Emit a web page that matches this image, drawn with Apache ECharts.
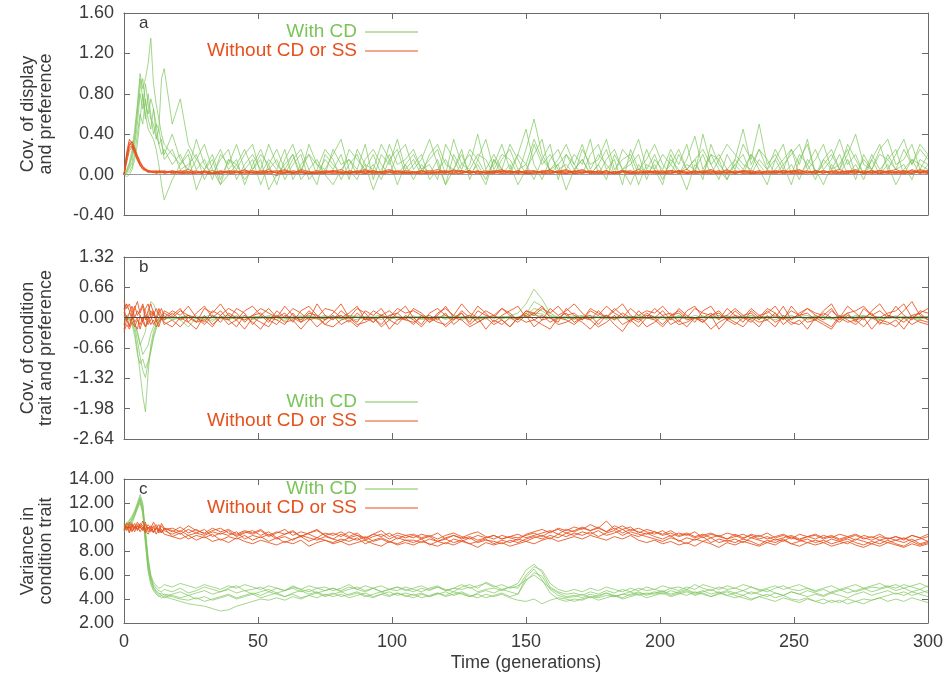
<!DOCTYPE html>
<html><head><meta charset="utf-8">
<script src="https://cdn.jsdelivr.net/npm/echarts@6/dist/echarts.min.js"></script>
<style>html,body{margin:0;padding:0;background:#fff}#c{width:946px;height:681px}</style>
</head><body><div id="c"></div>
<script>
// Time points (generations)
const T = [0,1,2,3,4,5,6,7,8,9,10,11,12,13,14,15,
18,21,24,27,30,33,36,39,42,45,
48,51,54,57,60,63,66,69,72,75,
78,81,84,87,90,93,96,99,102,105,
108,111,114,117,120,123,126,129,132,135,
138,141,144,147,150,153,156,159,162,165,
168,171,174,177,180,183,186,189,192,195,
198,201,204,207,210,213,216,219,222,225,
228,231,234,237,240,243,246,249,252,255,
258,261,264,267,270,273,276,279,282,285,
288,291,294,297,300];

const xTicks = [0,50,100,150,200,250,300];
const seriesNames = ['With CD','Without CD or SS'];

// Panel a: covariance of display and preference
const aG1 = [0.00,0.05,0.12,0.25,0.45,0.70,1.00,0.85,0.95,1.10,1.35,0.90,0.70,0.55,0.40,0.30,
0.20,0.10,0.25,0.05,0.15,-0.05,0.20,0.10,0.30,0.05,
0.15,-0.10,0.10,0.25,0.05,0.20,0.00,0.30,0.10,0.05,
0.20,0.35,0.05,-0.05,0.15,0.25,0.10,0.00,0.20,0.30,
0.05,0.15,0.35,0.10,-0.10,0.20,0.05,0.25,0.15,0.00,
0.10,0.30,0.05,0.20,0.45,0.10,-0.05,0.15,0.25,0.05,
0.20,0.10,0.35,0.00,0.15,0.25,0.05,0.10,0.20,-0.05,
0.15,0.05,0.25,0.10,0.30,0.00,0.40,0.10,0.20,0.05,
0.15,0.45,0.10,0.25,0.05,0.15,0.30,0.00,0.20,0.10,
0.25,0.05,0.15,0.35,0.10,0.20,0.00,0.15,0.30,0.05,
0.20,0.35,0.10,0.25,0.15];
const aG2 = [0.00,0.03,0.08,0.18,0.35,0.60,0.85,0.95,0.70,0.60,0.75,0.65,0.50,0.45,0.95,1.05,
0.50,0.75,0.30,0.15,0.05,0.20,-0.05,0.15,0.10,0.25,
0.05,0.20,0.10,-0.10,0.15,0.30,0.05,0.20,0.10,0.00,
0.25,0.10,0.15,0.05,0.30,-0.05,0.20,0.10,0.35,0.05,
0.15,0.00,0.20,0.30,0.10,0.05,0.25,-0.05,0.15,0.35,
0.05,0.20,0.15,0.00,0.25,0.55,0.20,0.05,0.15,0.30,
0.10,0.00,0.20,0.30,0.05,0.15,-0.10,0.25,0.05,0.15,
0.30,0.10,0.00,0.20,0.05,0.15,0.25,0.10,-0.05,0.20,
0.05,0.30,0.15,0.50,0.10,0.20,0.05,0.25,0.10,0.35,
0.00,0.15,0.25,0.05,0.20,0.40,0.10,0.05,0.20,0.15,
0.05,0.25,0.10,0.30,0.20];
const aG3 = [0.00,-0.02,0.00,0.05,0.15,0.30,0.55,0.80,0.60,0.45,0.40,0.35,0.25,0.10,-0.10,-0.25,
-0.05,0.10,0.20,-0.15,0.05,0.15,-0.10,0.00,0.10,-0.05,
0.05,0.15,-0.15,0.00,0.10,0.20,-0.05,0.05,0.15,0.00,
-0.10,0.05,0.15,0.00,0.10,-0.15,0.05,0.20,0.00,0.10,
-0.05,0.10,0.00,0.15,-0.10,0.05,0.20,0.00,0.10,-0.05,
0.15,0.00,0.10,-0.10,0.05,0.20,0.35,0.00,0.10,-0.15,
0.05,0.15,0.00,0.10,-0.05,0.20,0.05,-0.10,0.10,0.00,
0.10,-0.05,0.15,0.05,-0.15,0.10,0.00,0.20,0.05,-0.05,
0.10,0.00,0.20,0.05,-0.10,0.15,0.00,0.10,-0.05,0.15,
0.05,-0.10,0.10,0.00,0.15,-0.05,0.20,0.05,0.00,0.10,
-0.10,0.05,0.15,0.00,0.10];
const aG4 = [0.00,0.02,0.06,0.12,0.30,0.50,0.80,0.65,0.90,0.70,0.55,0.50,0.35,0.45,0.30,0.20,
0.40,0.15,0.05,0.35,0.10,0.00,0.15,0.25,-0.05,0.10,
0.20,0.05,0.30,0.10,0.00,0.15,0.25,0.05,-0.10,0.20,
0.10,0.00,0.25,0.15,0.05,0.20,0.00,0.30,0.10,0.15,
0.25,0.05,0.10,-0.05,0.30,0.15,0.00,0.10,0.40,0.05,
0.20,0.05,0.30,0.15,0.00,0.30,0.10,0.20,0.05,0.10,
0.00,0.25,0.10,0.15,0.35,0.05,0.15,0.20,0.00,0.25,
0.05,0.20,0.10,0.00,0.15,0.38,0.05,0.20,0.15,0.30,
0.20,0.10,0.05,0.25,0.15,0.00,0.10,0.20,0.30,0.05,
0.15,0.30,0.05,0.10,0.25,0.00,0.15,0.05,0.25,0.35,
0.10,0.15,0.30,0.05,0.20];
const aG5 = [0.00,0.04,0.10,0.20,0.40,0.65,0.95,0.75,0.55,0.80,0.60,0.40,0.50,0.30,0.20,0.25,
0.10,0.20,0.00,0.15,0.30,0.05,-0.10,0.15,0.05,0.20,
0.30,0.00,0.15,0.05,0.25,-0.05,0.10,0.20,0.00,0.15,
0.05,0.20,-0.05,0.25,0.10,0.05,0.30,0.15,-0.10,0.10,
0.20,0.05,0.15,0.25,0.00,0.35,0.10,0.05,0.20,0.15,
0.00,0.15,0.25,0.05,0.10,0.35,0.15,0.30,-0.05,0.20,
0.10,0.30,0.05,0.20,0.10,0.00,0.25,0.15,0.35,0.05,
0.20,0.00,0.10,0.25,0.05,0.15,-0.05,0.30,0.10,0.00,
0.10,0.20,0.00,0.15,0.05,0.25,0.10,-0.10,0.15,0.30,
0.00,0.10,0.20,0.05,0.30,0.15,0.00,0.20,0.05,0.15,
0.25,0.00,0.15,0.10,0.05];
const aG6 = [0.00,0.01,0.03,0.08,0.20,0.40,0.60,0.50,0.75,0.55,0.45,0.65,0.40,0.30,0.35,0.15,
0.25,0.05,0.10,0.20,-0.05,0.10,0.25,0.05,0.15,-0.10,
0.10,0.25,0.05,0.15,-0.05,0.10,0.20,-0.05,0.05,0.25,
0.15,-0.05,0.10,0.20,0.00,0.10,-0.05,0.15,0.25,0.00,
0.10,0.20,-0.05,0.05,0.15,0.00,0.10,0.20,0.05,-0.10,
0.15,0.05,0.00,0.20,0.10,-0.05,0.15,0.05,0.10,0.20,
0.05,0.15,0.00,0.10,0.25,0.00,0.05,0.15,-0.10,0.10,
0.05,-0.10,0.20,0.00,0.10,0.05,0.20,0.00,0.15,-0.05,
0.15,0.05,0.20,0.10,0.00,0.05,0.15,0.25,0.00,0.10,
-0.05,0.15,0.05,0.20,0.00,0.10,-0.05,0.15,0.00,0.20,
0.05,0.10,-0.05,0.15,0.10];
const aR1 = [0.00,0.20,0.32,0.30,0.24,0.17,0.11,0.07,0.05,0.04,0.03,0.03,0.02,0.03,0.02,0.03,
0.02,0.04,0.01,0.03,0.02,0.00,0.03,0.02,0.04,0.01,
0.03,0.02,0.05,0.01,0.02,0.03,0.00,0.02,0.04,0.02,
0.01,0.03,0.02,0.04,0.02,0.01,0.03,0.05,0.02,0.01,
0.03,0.02,0.00,0.03,0.04,0.02,0.01,0.03,0.02,0.04,
0.02,0.01,0.03,0.02,0.04,0.03,0.01,0.02,0.03,0.05,
0.02,0.03,0.01,0.04,0.02,0.03,0.00,0.02,0.03,0.01,
0.04,0.02,0.03,0.01,0.02,0.04,0.02,0.03,0.01,0.02,
0.03,0.01,0.02,0.04,0.02,0.03,0.01,0.02,0.04,0.03,
0.02,0.03,0.01,0.02,0.04,0.02,0.03,0.01,0.02,0.03,
0.05,0.02,0.01,0.03,0.02];
const aR2 = [0.00,0.15,0.27,0.28,0.22,0.15,0.10,0.06,0.04,0.03,0.02,0.03,0.01,0.02,0.03,0.01,
0.03,0.01,0.02,0.04,0.00,0.02,0.03,0.01,0.02,0.05,
0.01,0.03,0.02,-0.01,0.03,0.02,0.04,0.01,0.02,0.03,
0.02,0.00,0.04,0.02,0.01,0.03,0.02,0.00,0.03,0.02,
0.01,0.04,0.02,0.01,0.03,0.00,0.02,0.04,0.01,0.02,
0.03,0.02,0.00,0.04,0.01,0.02,0.03,0.01,0.04,0.02,
0.01,0.02,0.04,0.02,0.00,0.03,0.02,0.04,0.01,0.03,
0.02,0.00,0.02,0.03,0.01,0.02,0.04,0.01,0.03,0.02,
0.01,0.03,0.02,0.00,0.03,0.02,0.04,0.02,0.01,0.02,
0.03,0.01,0.04,0.02,0.01,0.03,0.02,0.04,0.01,0.02,
0.01,0.03,0.04,0.01,0.04];
const aR3 = [0.00,0.22,0.35,0.31,0.25,0.18,0.12,0.08,0.06,0.04,0.03,0.04,0.03,0.02,0.04,0.03,
0.02,0.03,0.05,0.02,0.03,0.01,0.04,0.02,0.00,0.03,
0.04,0.02,0.01,0.03,0.05,0.02,0.03,0.01,0.02,0.04,
0.03,0.05,0.01,0.02,0.03,0.04,0.01,0.02,0.04,0.03,
0.02,0.01,0.03,0.05,0.02,0.03,0.04,0.01,0.03,0.02,
0.04,0.03,0.02,0.01,0.03,0.04,0.02,0.05,0.01,0.03,
0.03,0.05,0.02,0.01,0.04,0.01,0.03,0.02,0.05,0.02,
0.01,0.03,0.04,0.02,0.03,0.00,0.03,0.05,0.02,0.04,
0.02,0.04,0.03,0.01,0.04,0.03,0.02,0.03,0.05,0.01,
0.04,0.02,0.03,0.05,0.02,0.01,0.04,0.02,0.03,0.01,
0.03,0.04,0.02,0.05,0.03];
const aR4 = [0.00,0.18,0.30,0.29,0.23,0.16,0.09,0.06,0.05,0.03,0.04,0.02,0.03,0.02,0.02,0.04,
0.01,0.02,0.03,0.01,0.04,0.02,0.01,0.03,0.02,0.02,
0.02,0.04,0.03,0.02,0.01,0.04,0.02,0.03,0.00,0.02,
0.04,0.02,0.03,0.01,0.04,0.02,0.03,0.03,0.01,0.04,
0.03,0.00,0.02,0.02,0.03,0.04,0.03,0.02,0.04,0.01,
0.01,0.04,0.03,0.03,0.02,0.01,0.04,0.03,0.02,0.01,
0.04,0.01,0.03,0.03,0.01,0.02,0.04,0.01,0.02,0.04,
0.03,0.04,0.01,0.04,0.02,0.03,0.01,0.02,0.04,0.01,
0.04,0.02,0.01,0.03,0.01,0.04,0.03,0.01,0.02,0.04,
0.01,0.04,0.02,0.03,0.03,0.04,0.01,0.03,0.04,0.02,
0.02,0.01,0.03,0.02,0.01];
const aR5 = [0.00,0.17,0.29,0.33,0.26,0.19,0.13,0.08,0.05,0.04,0.03,0.02,0.04,0.03,0.02,0.02,
0.04,0.02,0.03,0.00,0.02,0.04,0.01,0.03,0.02,0.04,
0.02,0.00,0.03,0.04,0.02,0.01,0.05,0.03,0.01,0.02,
0.04,0.01,0.02,0.03,0.05,0.02,0.00,0.04,0.03,0.02,
0.00,0.03,0.04,0.02,0.01,0.05,0.02,0.04,0.00,0.03,
0.03,0.05,0.01,0.04,0.02,0.00,0.03,0.04,0.02,0.01,
0.03,0.04,0.02,0.00,0.03,0.01,0.04,0.03,0.00,0.02,
0.02,0.01,0.04,0.03,0.05,0.01,0.03,0.00,0.02,0.05,
0.01,0.03,0.04,0.02,0.00,0.02,0.04,0.03,0.02,0.00,
0.02,0.04,0.00,0.01,0.03,0.05,0.02,0.04,0.00,0.04,
0.03,0.00,0.05,0.02,0.04];
const aR6 = [0.00,0.12,0.24,0.27,0.21,0.14,0.09,0.05,0.04,0.02,0.03,0.02,0.02,0.04,0.03,0.02,
0.03,0.02,0.00,0.02,0.03,0.01,0.02,0.04,0.03,0.00,
0.02,0.01,0.03,0.02,0.04,0.01,0.02,0.00,0.03,0.01,
0.03,0.02,0.01,0.03,0.01,0.04,0.02,0.03,0.00,0.02,
0.02,0.04,0.01,0.03,0.02,0.01,0.04,0.02,0.03,0.02,
0.02,0.03,0.04,0.02,0.01,0.03,0.02,0.00,0.03,0.04,
0.01,0.02,0.03,0.02,0.04,0.00,0.03,0.01,0.02,0.03,
0.03,0.02,0.00,0.04,0.01,0.03,0.02,0.04,0.00,0.03,
0.02,0.04,0.01,0.02,0.03,0.01,0.02,0.04,0.03,0.02,
0.04,0.02,0.03,0.00,0.02,0.03,0.01,0.02,0.04,0.03,
0.02,0.03,0.01,0.04,0.02];

// Panel b: covariance of condition trait and preference
const bG1 = [0.05,-0.05,0.00,-0.10,-0.30,-0.70,-1.20,-1.70,-2.05,-1.20,-0.60,-0.30,-0.15,-0.05,0.00,0.05,
-0.05,0.00,0.05,-0.08,0.02,0.06,-0.03,0.00,0.04,-0.05,
0.03,-0.02,0.05,0.00,-0.06,0.02,0.04,-0.03,0.01,0.05,
-0.02,0.04,0.00,-0.05,0.03,0.01,-0.04,0.05,0.00,0.02,
-0.03,0.05,0.01,-0.02,0.04,0.00,-0.05,0.02,0.03,-0.01,
0.04,-0.03,0.02,0.00,0.05,0.10,0.08,-0.02,0.03,0.00,
-0.04,0.02,0.05,0.00,-0.03,0.04,0.01,-0.02,0.05,0.00,
0.02,-0.04,0.03,0.01,-0.02,0.05,0.00,0.03,-0.03,0.02,
0.00,0.04,-0.02,0.03,0.01,-0.05,0.02,0.04,0.00,-0.02,
0.05,0.00,-0.03,0.02,0.04,-0.01,0.03,0.00,-0.04,0.02,
0.01,-0.02,0.04,0.00,0.03];
const bG2 = [-0.02,0.03,-0.05,-0.15,-0.40,-0.80,-1.00,-0.90,-1.10,-0.95,-0.70,-0.40,-0.20,-0.08,0.02,-0.03,
0.02,-0.05,-0.20,0.00,0.03,-0.04,0.02,0.05,-0.02,0.00,
-0.04,0.03,0.00,0.05,-0.02,0.01,-0.05,0.03,0.00,-0.03,
0.04,-0.01,0.02,0.00,-0.04,0.03,0.05,-0.02,0.01,0.00,
0.02,-0.04,0.00,0.03,-0.02,0.05,0.01,-0.03,0.00,0.04,
-0.02,0.03,0.00,-0.04,0.02,0.05,0.03,0.00,-0.03,0.02,
0.04,0.00,-0.03,0.02,0.05,-0.02,0.00,0.03,-0.04,0.01,
-0.03,0.02,0.00,0.04,-0.01,0.00,-0.04,0.02,0.05,-0.02,
0.03,-0.01,0.05,0.00,-0.03,0.02,-0.02,0.00,0.03,0.05,
-0.02,0.03,0.01,-0.04,0.00,0.02,0.05,-0.03,0.01,0.00,
0.03,0.00,-0.03,0.02,-0.01];
const bG3 = [0.00,0.04,0.10,0.05,-0.10,-0.35,-0.60,-0.45,-0.30,0.10,0.35,0.30,0.15,0.05,0.00,-0.05,
0.03,-0.02,0.00,0.04,-0.03,0.02,0.00,-0.05,0.03,0.01,
0.00,0.04,-0.03,0.02,0.00,-0.02,0.03,0.05,-0.04,0.00,
0.02,0.00,-0.03,0.04,0.01,-0.02,0.00,0.03,-0.05,0.02,
0.00,0.03,-0.02,0.01,0.05,-0.03,0.02,0.00,-0.04,0.03,
0.01,-0.02,0.04,0.10,0.30,0.62,0.40,0.10,0.00,-0.03,
0.02,0.05,-0.01,0.00,0.03,-0.04,0.02,0.00,0.04,-0.02,
0.00,0.03,-0.05,0.02,0.04,-0.01,0.00,0.03,-0.02,0.05,
-0.03,0.00,0.04,-0.02,0.02,0.00,0.05,-0.03,0.01,0.00,
0.02,-0.04,0.00,0.03,-0.02,0.05,0.00,0.02,-0.03,0.04,
-0.02,0.03,0.00,-0.04,0.02];
const bG4 = [0.03,-0.04,-0.02,-0.08,-0.20,-0.50,-0.85,-1.15,-1.30,-1.00,-0.75,-0.45,-0.25,-0.10,-0.04,0.02,
-0.03,0.02,0.04,-0.02,0.00,-0.08,0.03,-0.02,0.00,0.05,
-0.02,0.00,0.03,-0.04,0.02,0.00,-0.03,0.04,0.01,-0.02,
0.00,-0.03,0.05,0.02,-0.02,0.00,0.03,-0.04,0.02,0.00,
0.04,-0.02,0.00,0.03,-0.04,0.02,0.00,0.05,-0.02,0.01,
0.00,0.03,-0.03,0.02,0.04,0.20,0.15,0.03,-0.02,0.00,
-0.02,0.03,0.00,0.04,-0.03,0.01,0.00,-0.04,0.02,0.05,
0.03,0.00,-0.02,0.04,0.00,-0.03,0.02,0.00,0.04,-0.02,
-0.01,0.04,0.00,-0.03,0.02,0.05,-0.02,0.00,0.03,-0.04,
0.00,0.02,-0.03,0.04,0.00,-0.02,0.03,0.01,-0.04,0.00,
0.04,-0.02,0.01,0.03,0.00];
const bG5 = [0.00,0.02,-0.03,-0.06,-0.15,-0.30,-0.55,-0.80,-0.70,-0.60,-0.35,-0.20,-0.10,-0.03,0.02,-0.02,
0.02,-0.03,0.01,0.00,-0.04,0.03,0.00,0.02,-0.03,0.00,
0.04,0.00,-0.02,0.03,0.00,-0.04,0.01,0.02,-0.02,0.03,
0.00,-0.02,0.04,0.00,0.02,-0.03,0.01,0.00,0.03,-0.02,
0.01,0.00,-0.03,0.02,0.00,0.04,-0.02,0.01,0.00,-0.03,
0.02,0.00,0.03,-0.02,0.08,0.35,0.25,0.05,0.00,0.02,
0.00,-0.03,0.02,0.00,0.04,-0.02,0.01,0.03,0.00,-0.02,
0.02,0.00,0.03,-0.03,0.01,0.00,0.04,-0.02,0.00,0.03,
0.00,0.02,-0.03,0.01,0.03,0.00,-0.02,0.04,0.00,0.01,
0.03,0.00,-0.02,0.02,0.00,-0.03,0.04,0.00,0.02,-0.02,
0.00,0.02,0.00,-0.02,0.03];
const bR1 = [0.35,0.20,0.30,0.10,0.25,0.05,0.15,0.30,0.10,0.00,0.15,0.05,0.20,0.10,-0.05,0.15,
0.05,0.20,-0.10,0.10,0.25,0.00,0.15,-0.05,0.20,0.10,
-0.15,0.05,0.20,0.00,0.10,-0.10,0.15,0.25,0.05,-0.05,
0.10,0.30,0.00,-0.10,0.15,0.05,0.20,-0.05,0.10,0.25,
0.00,-0.15,0.10,0.20,0.05,-0.05,0.15,0.00,0.25,0.10,
-0.10,0.05,0.15,0.25,0.00,0.10,-0.05,0.20,0.05,0.15,
0.30,0.10,-0.05,0.15,0.00,0.20,0.05,-0.10,0.15,0.00,
0.20,0.05,0.10,-0.10,0.15,0.25,0.00,0.10,-0.05,0.20,
0.05,-0.10,0.15,0.00,0.20,0.10,-0.05,0.25,0.05,0.10,
-0.05,0.15,0.30,0.00,0.10,-0.10,0.20,0.05,0.15,0.00,
0.25,0.05,-0.05,0.15,0.10];
const bR2 = [-0.30,-0.15,-0.25,-0.10,-0.20,-0.05,-0.15,0.00,-0.20,-0.10,0.05,-0.15,-0.05,-0.20,0.00,-0.10,
-0.20,0.00,-0.10,-0.25,0.05,-0.15,0.00,-0.05,-0.20,0.05,
-0.10,-0.25,0.00,-0.05,-0.15,0.10,-0.10,0.00,-0.20,-0.05,
0.05,-0.15,-0.05,-0.20,0.00,-0.10,0.05,-0.25,-0.05,0.00,
-0.15,0.05,-0.10,0.00,-0.20,-0.05,0.10,-0.15,0.00,-0.25,
-0.05,-0.15,0.00,-0.10,0.05,-0.20,-0.05,0.00,-0.15,-0.10,
0.00,-0.10,-0.25,-0.05,0.05,-0.15,-0.30,-0.05,0.00,-0.20,
-0.10,0.05,-0.15,-0.05,-0.20,0.00,-0.10,0.05,-0.25,-0.05,
-0.15,0.00,-0.05,-0.20,0.05,-0.10,0.00,-0.15,-0.05,-0.25,
0.00,-0.10,-0.20,0.05,-0.05,-0.15,0.00,-0.25,-0.05,-0.10,
-0.20,0.00,-0.15,-0.05,-0.10];
const bR3 = [0.10,0.30,0.15,-0.05,0.20,0.35,0.10,0.25,-0.05,0.15,0.30,0.10,0.00,0.20,0.05,0.10,
0.00,0.15,0.05,-0.10,0.20,0.10,0.30,0.05,-0.05,0.15,
0.25,0.05,-0.10,0.15,0.00,0.20,0.10,-0.05,0.30,0.05,
-0.05,0.15,0.00,0.20,0.10,-0.10,0.05,0.15,0.00,-0.05,
0.20,0.10,-0.05,0.05,0.25,0.00,0.10,-0.10,0.15,0.05,
0.00,0.20,0.05,-0.05,0.15,0.10,0.25,0.00,-0.10,0.20,
0.05,-0.05,0.20,0.10,0.00,0.15,0.30,0.05,-0.05,0.10,
0.00,0.15,-0.05,0.20,0.05,-0.10,0.15,0.25,0.00,0.05,
0.20,0.05,0.10,-0.05,0.15,0.00,0.25,-0.05,0.10,0.20,
0.05,-0.05,0.15,0.00,0.25,0.10,-0.05,0.15,0.30,0.05,
0.00,0.15,0.35,0.05,-0.05];
const bR4 = [-0.15,0.05,-0.20,0.10,-0.10,0.00,-0.25,-0.05,0.05,-0.15,-0.05,0.10,-0.10,0.00,0.05,-0.05,
0.10,-0.05,0.05,0.00,-0.15,0.05,-0.10,0.10,0.00,-0.05,
0.05,0.10,-0.05,-0.15,0.05,0.00,-0.10,0.10,0.05,-0.15,
0.00,0.05,-0.10,0.10,-0.05,0.00,-0.15,0.05,0.10,-0.05,
-0.10,0.00,0.05,-0.05,0.10,-0.15,0.00,0.05,-0.10,0.00,
0.05,-0.05,-0.20,0.00,0.10,-0.05,0.05,-0.10,0.00,0.10,
-0.10,0.00,0.05,-0.15,0.05,-0.05,0.10,0.00,-0.10,0.05,
0.00,-0.15,0.05,0.10,-0.05,0.00,-0.10,0.05,0.10,-0.05,
0.05,0.00,-0.10,0.05,-0.05,0.10,-0.15,0.00,0.05,-0.10,
-0.05,0.10,0.00,-0.10,0.05,-0.05,0.00,0.10,-0.15,0.05,
0.00,-0.10,0.05,0.10,-0.05];
const bR5 = [0.20,-0.05,0.10,0.25,0.00,0.15,0.05,-0.10,0.20,0.30,0.05,0.15,-0.05,0.10,0.20,0.00,
0.15,0.05,0.25,0.00,-0.10,0.15,0.05,0.20,0.10,-0.10,
0.05,0.20,0.10,0.00,0.25,0.05,-0.05,0.15,0.00,0.20,
0.15,0.00,0.10,0.25,-0.05,0.15,0.05,0.00,0.20,0.10,
0.15,0.05,-0.10,0.10,0.20,0.05,0.30,0.10,0.00,0.15,
0.05,0.20,0.10,-0.05,0.15,0.05,0.20,0.10,0.25,0.05,
0.10,-0.05,0.15,0.05,0.25,0.10,0.00,0.20,0.05,0.15,
0.10,0.25,0.05,0.15,0.00,0.20,0.10,0.05,0.15,-0.05,
0.15,0.00,0.20,0.05,0.10,0.25,0.00,0.15,0.05,0.20,
0.10,0.05,0.20,-0.05,0.10,0.15,0.25,0.05,0.00,0.10,
0.15,0.30,0.00,0.10,0.20];
const bR6 = [-0.25,-0.05,-0.20,0.00,-0.15,-0.25,0.05,-0.10,-0.20,0.00,-0.15,-0.05,-0.20,-0.10,0.00,-0.15,
-0.05,-0.20,0.00,-0.10,-0.05,-0.20,0.05,-0.15,-0.05,-0.25,
0.00,-0.10,-0.20,0.05,-0.10,-0.05,-0.25,-0.05,0.00,-0.15,
-0.20,-0.05,0.00,-0.15,-0.10,0.00,-0.20,-0.05,-0.15,0.05,
-0.05,-0.20,0.00,-0.10,-0.15,0.00,-0.05,-0.20,-0.10,0.00,
-0.15,-0.05,-0.20,0.00,-0.10,-0.05,-0.15,-0.25,0.00,-0.05,
-0.15,0.00,-0.05,-0.20,-0.10,0.05,-0.15,-0.05,-0.20,0.00,
-0.05,-0.20,0.00,-0.15,-0.10,0.00,-0.05,-0.25,-0.10,0.00,
-0.10,-0.20,0.00,-0.10,-0.05,-0.20,0.05,-0.10,-0.15,0.00,
-0.05,-0.15,-0.25,0.00,-0.10,-0.05,-0.20,0.00,-0.10,-0.15,
-0.05,-0.25,0.00,-0.10,-0.15];

// Panel c: variance in condition trait
const cG1 = [10.0,10.3,10.6,10.9,11.4,12.0,12.7,12.0,9.5,7.0,5.8,5.2,4.9,4.7,4.6,4.8,
4.6,4.9,4.5,4.7,5.0,4.8,4.6,4.9,5.1,4.7,
4.8,5.0,4.6,4.9,4.7,5.1,4.8,4.6,4.9,5.0,
4.7,4.9,5.2,4.8,4.6,4.9,5.1,4.8,4.7,5.0,
4.8,4.6,4.9,5.1,4.7,4.9,4.8,5.0,4.6,4.8,
4.9,4.7,5.0,5.3,6.4,6.9,6.2,5.0,4.6,4.4,
4.5,4.3,4.6,4.4,4.7,4.5,4.8,4.6,4.9,4.7,
4.8,4.6,4.9,5.0,4.8,5.2,4.9,4.7,5.0,4.8,
4.9,4.7,5.0,4.8,4.6,4.9,5.1,4.8,4.7,4.9,
4.6,4.8,4.5,4.7,4.9,4.6,4.8,5.0,4.9,5.1,
4.9,5.2,5.0,4.8,5.1];
const cG2 = [9.6,9.9,10.2,10.6,11.0,11.6,12.2,11.3,8.8,6.5,5.4,4.8,4.5,4.3,4.1,4.2,
4.0,3.8,3.6,3.5,3.4,3.2,3.0,3.1,3.4,3.6,
3.8,4.0,3.9,4.1,3.9,4.2,4.0,4.3,4.1,4.4,
4.2,4.4,4.1,4.3,4.5,4.2,4.4,4.6,4.3,4.5,
4.3,4.5,4.2,4.4,4.6,4.3,4.5,4.2,4.4,4.1,
4.3,4.5,4.2,4.4,5.8,6.5,5.6,4.5,4.0,3.8,
4.0,3.9,4.2,4.1,4.3,4.2,4.4,4.3,4.5,4.4,
4.6,4.4,4.7,4.5,4.3,4.6,4.4,4.2,4.5,4.3,
4.1,4.3,4.0,4.2,4.4,4.1,4.3,4.0,3.9,4.1,
3.8,4.0,3.7,3.9,3.6,3.8,4.0,3.9,4.1,4.3,
4.5,4.3,4.6,4.4,4.2];
const cG3 = [10.4,10.1,10.5,10.8,11.2,11.8,12.4,11.6,9.0,6.8,5.6,5.0,4.6,4.4,4.5,4.3,
4.2,4.0,3.9,4.1,3.8,4.0,4.2,4.4,4.1,4.3,
4.5,4.3,4.6,4.4,4.2,4.5,4.7,4.4,4.6,4.3,
4.5,4.2,4.4,4.6,4.3,4.1,4.4,4.2,4.5,4.3,
4.1,4.4,4.2,4.5,4.3,4.6,4.4,4.2,4.5,4.7,
4.5,4.8,4.6,4.4,5.5,6.2,5.9,4.8,4.3,4.1,
4.2,4.4,4.1,4.3,4.5,4.2,4.4,4.6,4.3,4.5,
4.4,4.6,4.3,4.5,4.7,4.4,4.6,4.8,4.5,4.7,
4.5,4.7,4.4,4.6,4.8,4.5,4.3,4.6,4.4,4.2,
4.4,4.2,4.5,4.3,4.1,4.4,4.6,4.3,4.5,4.7,
4.4,4.6,4.3,4.5,4.7];
const cG4 = [9.8,10.4,10.0,10.5,11.0,11.9,12.5,11.8,9.8,7.5,6.0,5.4,5.1,4.9,5.0,5.2,
5.0,5.3,5.1,4.9,5.2,5.0,4.8,5.1,4.9,5.2,
5.0,4.8,5.1,4.9,4.7,5.0,4.8,5.1,4.9,4.7,
4.9,4.7,5.0,4.8,5.1,4.9,4.6,4.8,5.0,4.8,
4.6,4.9,4.7,5.0,4.8,4.6,5.0,5.2,4.9,5.4,
5.1,4.8,5.0,4.9,6.0,6.7,6.4,5.3,4.8,4.6,
4.8,4.6,4.9,4.7,5.0,4.8,4.6,4.9,4.7,5.0,
4.8,5.1,4.9,4.7,5.0,4.8,5.2,5.0,4.8,5.1,
4.9,5.2,5.0,4.7,4.9,5.1,4.8,5.0,5.2,4.9,
4.7,4.9,5.1,4.8,5.0,5.2,4.9,5.1,5.3,5.0,
5.2,4.9,5.1,5.3,5.0];
const cG5 = [10.2,9.8,10.3,10.7,11.3,11.7,12.3,11.4,9.3,7.2,5.9,5.0,4.7,4.5,4.3,4.4,
4.3,4.1,4.3,4.0,4.2,3.9,4.1,4.3,4.0,4.2,
4.4,4.1,4.3,4.5,4.2,4.4,4.1,4.3,4.5,4.2,
4.4,4.6,4.3,4.5,4.2,4.4,4.6,4.3,4.5,4.2,
4.4,4.1,4.3,4.5,4.2,4.4,4.6,4.3,4.1,4.4,
4.2,4.4,4.1,3.9,3.8,4.0,3.6,3.9,4.1,4.0,
3.8,4.0,4.2,3.9,4.1,4.3,4.0,4.2,4.4,4.1,
4.3,4.5,4.2,4.4,4.6,4.3,4.5,4.2,4.4,4.6,
4.3,4.1,3.9,4.2,4.0,3.8,4.1,3.9,3.7,4.0,
3.8,3.6,3.9,3.7,4.0,3.8,3.6,3.9,4.1,3.8,
4.0,3.8,4.1,3.9,3.7];
const cG6 = [9.9,10.2,10.4,10.3,10.9,11.5,12.0,11.1,8.5,6.3,5.2,4.7,4.4,4.2,4.3,4.1,
4.4,4.6,4.3,4.5,4.7,4.4,4.6,4.8,4.5,4.7,
4.4,4.6,4.8,4.5,4.7,4.9,4.6,4.8,4.5,4.7,
4.9,4.6,4.8,5.0,4.7,4.9,4.6,4.8,5.0,4.7,
4.9,5.1,4.8,5.0,4.7,4.9,5.2,4.9,5.1,5.3,
5.0,5.2,4.9,5.1,5.6,6.0,5.5,4.9,4.5,4.2,
4.3,4.1,4.4,4.2,4.5,4.3,4.1,4.4,4.6,4.3,
4.5,4.7,4.4,4.6,4.8,4.5,4.7,4.4,4.6,4.3,
4.5,4.3,4.6,4.4,4.2,4.5,4.3,4.6,4.4,4.7,
4.5,4.3,4.6,4.8,4.5,4.7,4.9,4.6,4.8,5.0,
4.7,4.9,4.6,4.8,4.5];
const cR1 = [10.2,10.0,9.8,10.3,9.9,10.4,10.0,9.7,10.2,9.8,10.1,9.6,10.0,9.7,10.3,9.9,
9.6,10.0,9.5,9.8,9.4,9.7,9.9,9.5,9.3,9.6,
9.4,9.7,9.2,9.5,9.8,9.3,9.6,9.4,9.1,9.5,
9.3,9.6,9.2,9.5,9.0,9.4,9.7,9.2,9.5,9.3,
9.1,9.4,9.2,9.5,9.0,9.3,9.1,9.4,9.6,9.2,
9.0,9.3,9.1,8.9,9.4,9.6,9.8,9.5,9.9,9.7,
10.0,9.8,10.2,9.9,10.5,9.8,10.1,9.7,9.9,9.6,
9.4,9.7,9.2,9.5,9.3,9.6,9.1,9.4,9.2,9.5,
9.3,9.0,9.4,9.2,9.5,9.1,9.3,9.0,9.4,9.2,
9.0,9.3,9.1,9.4,9.2,8.9,9.3,9.1,9.4,9.0,
9.2,8.9,9.3,9.1,8.8];
const cR2 = [9.8,10.3,10.0,9.6,10.1,9.8,10.2,9.9,9.5,10.0,9.7,10.1,9.4,9.8,9.5,9.9,
9.2,9.5,9.0,9.3,9.1,9.4,8.9,9.2,9.0,9.3,
8.9,9.2,8.8,9.1,8.7,9.0,9.2,8.8,9.1,8.9,
8.7,9.0,8.8,9.1,8.6,8.9,9.1,8.8,8.6,8.9,
8.7,9.0,8.5,8.8,9.0,8.7,8.9,8.6,8.8,9.0,
8.6,8.9,8.7,9.0,8.8,9.1,9.3,9.0,9.4,9.2,
9.5,9.3,9.6,9.2,9.5,9.7,9.3,9.6,9.4,9.2,
9.0,8.8,9.1,8.9,8.6,9.0,8.8,9.1,8.7,8.9,
8.7,9.0,8.8,8.5,8.9,8.7,9.0,8.6,8.8,9.0,
8.7,8.9,8.6,8.8,9.0,8.7,8.5,8.8,8.6,8.9,
8.6,8.4,8.8,8.5,8.7];
const cR3 = [10.1,9.7,10.4,10.0,9.6,10.2,9.9,10.5,9.8,10.2,9.9,10.4,10.0,9.6,10.1,9.8,
9.9,9.6,10.1,9.7,9.5,9.9,9.6,9.8,9.4,9.7,
9.5,9.8,9.3,9.6,9.4,9.7,9.2,9.5,9.8,9.3,
9.5,9.2,9.6,9.3,9.1,9.4,9.2,9.5,9.0,9.3,
9.4,9.1,9.3,9.0,9.3,9.5,9.2,9.0,9.3,9.1,
9.3,9.0,9.2,9.4,9.1,9.3,9.5,9.7,9.4,9.8,
9.6,9.9,9.7,10.0,9.6,9.9,9.5,9.8,9.6,9.4,
9.6,9.3,9.5,9.2,9.4,9.1,9.3,9.5,9.2,9.0,
9.2,9.4,9.1,9.3,9.0,9.2,9.4,9.1,8.9,9.2,
9.3,9.0,9.2,8.9,9.1,9.3,9.0,9.2,8.9,9.1,
8.9,9.1,8.8,9.0,9.2];
const cR4 = [9.9,10.1,9.6,10.0,10.3,9.7,10.0,9.8,10.4,9.6,9.9,9.5,9.9,10.2,9.6,9.7,
9.4,9.7,9.3,9.5,9.8,9.2,9.5,9.3,9.6,9.0,
9.3,9.1,9.4,9.0,9.2,8.9,9.3,9.1,8.9,9.2,
9.0,8.8,9.1,8.9,9.2,8.8,9.0,8.7,9.1,8.9,
8.9,8.7,9.0,8.8,8.6,9.0,8.8,9.1,8.7,8.9,
8.8,8.6,8.9,8.7,9.0,9.2,9.0,9.3,9.1,9.5,
9.3,9.6,9.4,9.7,9.3,9.5,9.8,9.4,9.2,9.5,
9.2,9.0,9.3,8.8,9.1,8.9,9.2,8.7,9.0,8.8,
9.0,8.7,9.1,8.9,8.7,9.0,8.8,9.2,8.9,8.7,
8.9,8.7,9.0,8.8,8.6,9.0,8.8,8.6,8.9,8.7,
8.9,8.7,9.0,8.6,8.8];
const cR5 = [10.3,9.9,10.2,9.7,10.0,9.8,10.3,10.1,9.7,10.0,9.6,9.9,10.2,9.8,9.5,9.9,
9.7,9.4,9.8,9.5,9.3,9.6,9.4,9.7,9.2,9.5,
9.7,9.3,9.6,9.1,9.4,9.6,9.2,9.5,9.7,9.3,
9.0,9.4,9.1,9.3,8.9,9.2,9.4,9.0,9.3,9.1,
9.3,9.0,9.2,8.8,9.1,9.3,9.0,9.2,8.9,9.1,
9.3,9.0,9.2,9.1,9.3,9.5,9.2,9.6,9.8,9.5,
9.7,10.0,9.7,9.9,9.6,10.1,9.8,10.0,9.5,9.8,
9.6,9.4,9.7,9.3,9.5,9.2,9.4,9.1,9.3,9.0,
9.4,9.1,9.3,9.0,9.2,8.9,9.1,9.3,9.0,9.2,
9.4,9.1,9.3,9.0,9.2,9.4,9.1,8.9,9.2,9.0,
9.2,9.0,9.3,9.1,9.4];
const cR6 = [9.7,10.0,9.5,10.2,9.8,10.1,9.6,10.0,9.7,9.4,9.8,9.6,9.9,9.5,9.8,9.4,
9.2,9.0,9.3,8.9,9.2,8.8,9.0,8.7,9.1,8.8,
8.6,8.9,8.7,8.5,8.8,8.6,8.9,8.4,8.7,8.9,
8.6,8.8,8.5,8.7,8.9,8.6,8.4,8.8,8.5,8.7,
8.5,8.8,8.6,8.4,8.7,8.5,8.8,8.6,8.3,8.7,
8.5,8.7,8.4,8.6,8.8,8.6,8.9,9.1,8.8,9.0,
9.2,9.0,9.3,9.1,8.9,9.2,9.0,9.3,8.9,8.7,
8.9,8.6,8.8,8.5,8.7,8.4,8.8,8.6,8.3,8.7,
8.5,8.8,8.6,8.4,8.7,8.5,8.9,8.6,8.4,8.7,
8.5,8.7,8.4,8.6,8.8,8.5,8.3,8.6,8.4,8.7,
8.5,8.3,8.6,8.4,8.6];

const GREEN = '#7cc45a', RED = '#e6501c', AX = '#6a6a6a', TXT = '#3a3a3a';
const FONT = '"Liberation Sans", Arial, sans-serif';

const panels = [
  {top:13, height:202, min:-0.4, max:1.6, step:0.4, name:'Cov. of display\nand preference', zero:'#9a9a9a',
   green:[aG1,aG2,aG3,aG4,aG5,aG6], red:[aR1,aR2,aR3,aR4,aR5,aR6], letter:'a', leg:[32,51]},
  {top:257, height:182, min:-2.64, max:1.32, step:0.66, name:'Cov. of condition\ntrait and preference', zero:'#4a4a4a',
   green:[bG1,bG2,bG3,bG4,bG5], red:[bR1,bR2,bR3,bR4,bR5,bR6], letter:'b', leg:[402,421]},
  {top:479, height:144, min:2, max:14, step:2, name:'Variance in\ncondition trait', zero:null,
   green:[cG1,cG2,cG3,cG4,cG5,cG6], red:[cR1,cR2,cR3,cR4,cR5,cR6], letter:'c', leg:[489,508]}
];

function pts(vals){
  if (vals.length !== T.length) throw new Error('length mismatch ' + vals.length);
  return T.map((t,i)=>[t, vals[i]]);
}
function fmt(v){ return Math.abs(v) < 1e-9 ? '0.00' : v.toFixed(2); }

const grid=[], xAxis=[], yAxis=[], series=[], graphic=[];
panels.forEach((p,k)=>{
  grid.push({left:124, width:804, top:p.top, height:p.height});
  const xi = xAxis.length, yi = yAxis.length;
  const tick = {show:true, inside:true, length:6, lineStyle:{color:AX}};
  const line = {show:true, onZero:false, lineStyle:{color:AX, width:1}};
  xAxis.push({type:'value', gridIndex:k, min:0, max:300, interval:50, position:'bottom',
    axisLine:line, axisTick:tick, splitLine:{show:false},
    axisLabel:{show:k===2, margin:10, color:TXT, fontSize:18, fontFamily:FONT},
    name: k===2 ? 'Time (generations)' : '', nameLocation:'middle', nameGap:31,
    nameTextStyle:{color:TXT, fontSize:18, fontFamily:FONT}});
  xAxis.push({type:'value', gridIndex:k, min:0, max:300, interval:50, position:'top',
    axisLine:line, axisTick:tick, splitLine:{show:false}, axisLabel:{show:false}});
  yAxis.push({type:'value', gridIndex:k, min:p.min, max:p.max, interval:p.step, position:'left',
    axisLine:line, axisTick:tick, splitLine:{show:false},
    axisLabel:{margin:10, color:TXT, fontSize:18, fontFamily:FONT, formatter:fmt},
    name:p.name, nameLocation:'middle', nameGap:69,
    nameTextStyle:{color:TXT, fontSize:18, fontFamily:FONT, lineHeight:18}});
  yAxis.push({type:'value', gridIndex:k, min:p.min, max:p.max, interval:p.step, position:'right',
    axisLine:line, axisTick:tick, splitLine:{show:false}, axisLabel:{show:false}});
  p.green.forEach((v,j)=>{
    const s = {type:'line', name:seriesNames[0], xAxisIndex:xi, yAxisIndex:yi, data:pts(v),
      showSymbol:false, symbol:'none', silent:true, z:2,
      lineStyle:{color:GREEN, width:1, opacity:0.7}, itemStyle:{color:GREEN}};
    if (p.zero && j===0) s.markLine = {silent:true, symbol:'none', label:{show:false},
      lineStyle:{color:p.zero, width:1, type:'solid'}, data:[{yAxis:0}]};
    series.push(s);
  });
  p.red.forEach(v=>{
    series.push({type:'line', name:seriesNames[1], xAxisIndex:xi, yAxisIndex:yi, data:pts(v),
      showSymbol:false, symbol:'none', silent:true, z:3,
      lineStyle:{color:RED, width:1, opacity:0.85}, itemStyle:{color:RED}});
  });
  graphic.push({type:'text', left:139, top:p.top+2, style:{text:p.letter, fill:TXT, font:'17px '+FONT}});
  [[seriesNames[0],GREEN],[seriesNames[1],RED]].forEach((it,q)=>{
    const y = p.leg[q];
    graphic.push({type:'text', style:{text:it[0], x:357, y:y, textAlign:'right', textVerticalAlign:'middle',
      fill:it[1], font:'19px '+FONT}});
    graphic.push({type:'line', shape:{x1:365, y1:y, x2:418, y2:y}, style:{stroke:it[1], lineWidth:1}});
  });
});

const chart = echarts.init(document.getElementById('c'), null, {renderer:'canvas'});
chart.setOption({animation:false, backgroundColor:'#fff', grid, xAxis, yAxis, series, graphic});
</script></body></html>
